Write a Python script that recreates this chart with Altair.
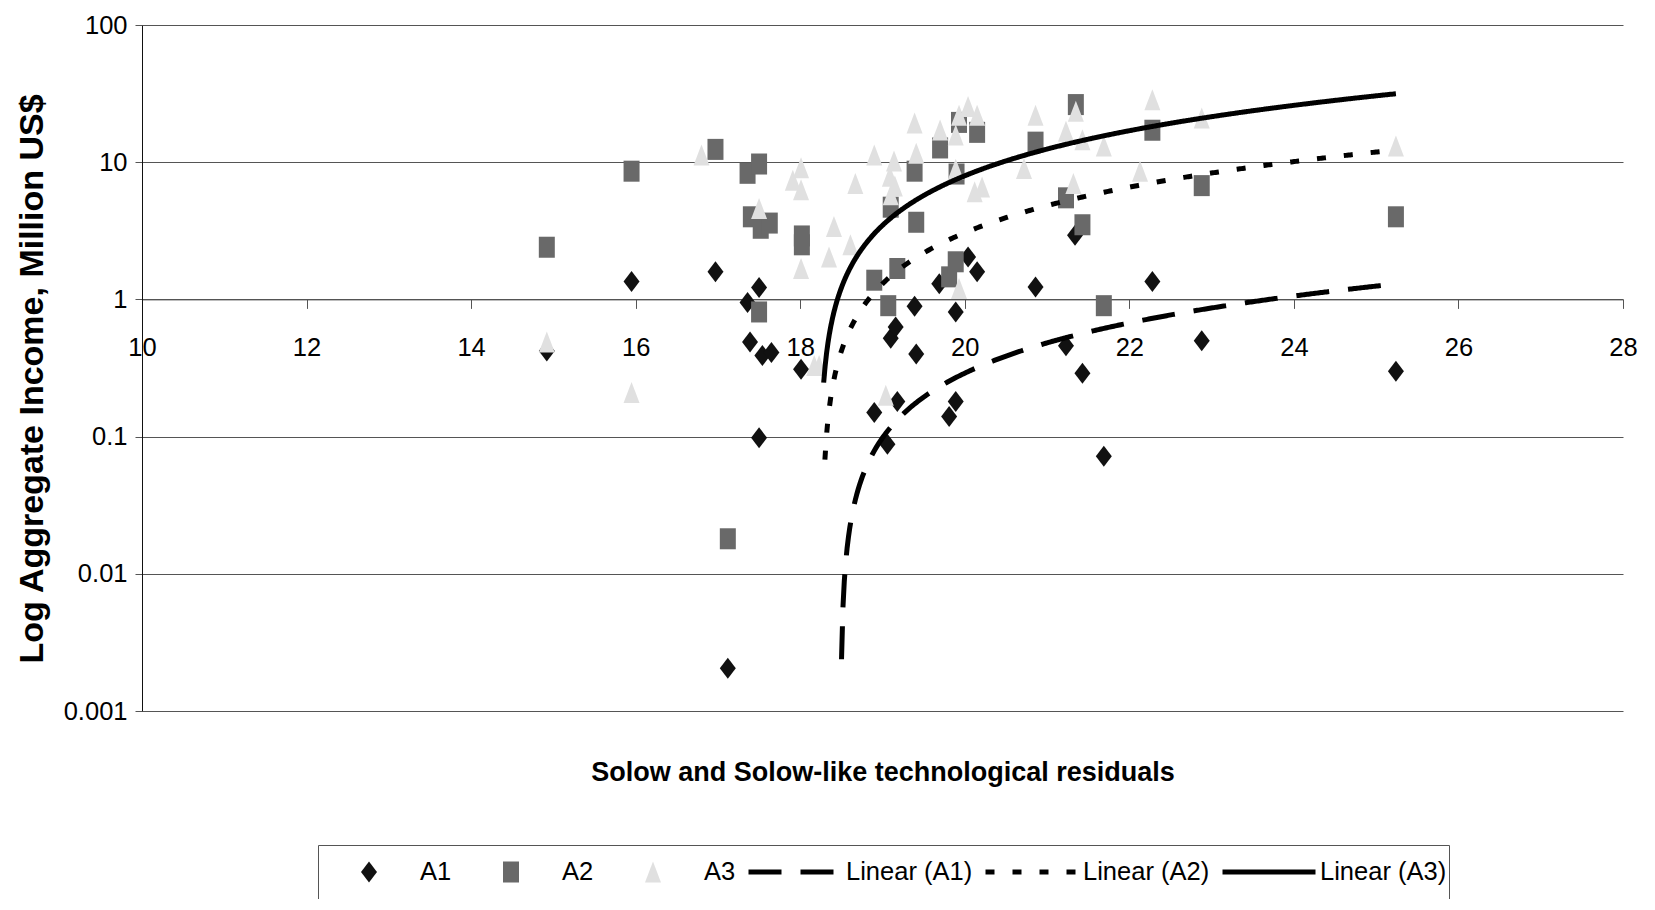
import altair as alt
import numpy as np
import pandas as pd

# ---------------- data ----------------
a1_x = [14.92, 15.95, 16.97, 17.12, 17.36, 17.39, 17.50, 17.50, 17.54, 17.65,
        18.01, 18.90, 19.06, 19.10, 19.16, 19.18, 19.39, 19.41, 19.69, 19.81,
        19.89, 19.89, 20.04, 20.15, 20.86, 21.23, 21.34, 21.43, 21.69, 22.28,
        22.88, 25.24]
a1_y = [0.42, 1.35, 1.59, 0.00205, 0.95, 0.49, 1.22, 0.098, 0.39, 0.41,
        0.31, 0.15, 0.088, 0.52, 0.63, 0.18, 0.89, 0.40, 1.30, 0.14,
        0.81, 0.18, 2.04, 1.59, 1.23, 0.46, 2.94, 0.29, 0.072, 1.35,
        0.50, 0.30]

a2_x = [14.92, 15.95, 16.97, 17.12, 17.36, 17.40, 17.50, 17.50, 17.52, 17.63,
        18.02, 18.02, 18.90, 19.07, 19.10, 19.18, 19.39, 19.41, 19.70, 19.81,
        19.89, 19.90, 19.93, 20.15, 20.86, 21.23, 21.35, 21.43, 21.69, 22.28,
        22.88, 25.24]
a2_y = [2.4, 8.6, 12.4, 0.018, 8.3, 4.0, 9.7, 0.81, 3.3, 3.6,
        2.9, 2.5, 1.38, 0.90, 4.7, 1.68, 8.6, 3.65, 12.7, 1.46,
        1.88, 8.2, 19.5, 16.5, 14.0, 5.5, 26.3, 3.5, 0.90, 17.1,
        6.75, 4.0]

a3_x = [14.92, 15.95, 16.80, 17.50, 17.91, 18.01, 18.01, 18.01, 18.17, 18.23,
        18.35, 18.41, 18.61, 18.67, 18.90, 19.04, 19.09, 19.10, 19.14, 19.15,
        19.39, 19.41, 19.70, 19.89, 19.89, 19.93, 19.93, 20.04, 20.12, 20.15,
        20.21, 20.72, 20.86, 21.23, 21.32, 21.35, 21.43, 21.69, 22.13, 22.28,
        22.88, 25.24]
a3_y = [0.49, 0.21, 11.3, 4.6, 7.4, 9.1, 6.3, 1.68, 0.33, 0.33,
        2.04, 3.4, 2.5, 7.0, 11.3, 0.20, 7.9, 5.8, 10.2, 6.7,
        19.3, 11.6, 17.2, 15.8, 8.9, 22.0, 1.2, 25.5, 6.1, 22.0,
        6.6, 9.0, 22.0, 16.8, 7.0, 23.5, 14.6, 13.1, 8.6, 28.5,
        21.0, 13.1]

series_names = ["A1", "A2", "A3", "Linear (A1)", "Linear (A2)", "Linear (A3)"]
trend_names = ["Linear (A1)", "Linear (A2)", "Linear (A3)"]
# linear trendlines y = slope * x + intercept
trend_slope = [0.192, 1.76, 4.5]
trend_intercept = [-3.550, -32.14, -82.035]
trend_start = [18.502, 18.30, 18.285]
trend_end = [25.24, 25.24, 25.24]

x_ticks = [10, 12, 14, 16, 18, 20, 22, 24, 26, 28]
y_ticks = [0.001, 0.01, 0.1, 1, 10, 100]

x_title = "Solow and Solow-like technological residuals"
y_title = "Log Aggregate Income, Million US$"

# ---------------- tables ----------------
rows = []
for name, xs, ys in [("A1", a1_x, a1_y), ("A2", a2_x, a2_y), ("A3", a3_x, a3_y)]:
    for xv, yv in zip(xs, ys):
        rows.append({"series": name, "x": xv, "y": yv})
points = pd.DataFrame(rows)

trows = []
for i, name in enumerate(trend_names):
    xs = np.linspace(trend_start[i], trend_end[i], 400)
    ys = trend_slope[i] * xs + trend_intercept[i]
    for xv, yv in zip(xs, ys):
        if yv > 0:
            trows.append({"series": name, "x": float(xv), "y": float(yv)})
trend = pd.DataFrame(trows)

# ---------------- styling ----------------
W, H = 1481, 686
FONT = "Liberation Sans"
DIAMOND = "M0,-0.226L0.172,0L0,0.226L-0.172,0Z"
SQUARE = "M-0.172,-0.226L0.172,-0.226L0.172,0.226L-0.172,0.226Z"
TRIANGLE = "M0,-0.226L0.172,0.226L-0.172,0.226Z"

x_scale = alt.Scale(domain=[10, 28], nice=False, zero=False)
y_scale = alt.Scale(type="log", domain=[0.001, 100], nice=False)
color_scale = alt.Scale(domain=series_names,
                        range=["#111111", "#696969", "#e0e0e0", "#000000", "#000000", "#000000"])
shape_scale = alt.Scale(domain=series_names,
                        range=[DIAMOND, SQUARE, TRIANGLE, "stroke", "stroke", "stroke"])
dash_scale = alt.Scale(domain=series_names,
                       range=[[0, 1000], [0, 1000], [0, 1000], [33, 19], [9, 18], [1, 0]])

legend = alt.Legend(
    title=" ", titleOrient="bottom", orient="none", legendX=176, legendY=820,
    direction="horizontal", columns=6,
    symbolSize=8649, symbolStrokeWidth=5, clipHeight=50,
    labelFont=FONT, labelFontSize=25.5, labelColor="black", labelOffset=2,
    columnPadding=10, padding=2, strokeColor="#555555", fillColor="white",
    titleFontSize=14, titlePadding=0, symbolOpacity=1,
)

x_axis = alt.Axis(
    orient="bottom", offset=-(H * 3 / 5), values=x_ticks, format="d",
    grid=False, labelFont=FONT, labelFontSize=25.5, labelColor="black",
    labelFlush=False, labelPadding=27, tickSize=9, tickColor="#555555",
    domainColor="#555555", title=x_title, titleFont=FONT, titleFontSize=27,
    titleFontWeight="bold", titleColor="black", titleX=W / 2, titleY=473,
    titleAlign="center", titleBaseline="middle",
)
y_axis = alt.Axis(
    orient="left", values=y_ticks, labelExpr="'' + datum.value",
    grid=True, gridColor="#555555", gridWidth=1,
    labelFont=FONT, labelFontSize=25.5, labelColor="black", labelPadding=8,
    tickSize=7, tickColor="#555555", domainColor="#111111",
    title=y_title, titleFont=FONT, titleFontSize=34, titleFontWeight="bold",
    titleColor="black", titleAngle=270, titleX=-110, titleY=353.5,
    titleAlign="center", titleBaseline="middle",
)

pts = alt.Chart(points).mark_point(filled=True, opacity=1, size=8649, strokeWidth=0).encode(
    x=alt.X("x:Q", scale=x_scale, axis=x_axis),
    y=alt.Y("y:Q", scale=y_scale, axis=y_axis),
    shape=alt.Shape("series:N", scale=shape_scale, legend=legend),
    color=alt.Color("series:N", scale=color_scale, legend=legend),
    order=alt.Order("series:N"),
)

lines = alt.Chart(trend).mark_line(strokeWidth=5, strokeCap="butt").encode(
    x=alt.X("x:Q", scale=x_scale),
    y=alt.Y("y:Q", scale=y_scale),
    color=alt.Color("series:N", scale=color_scale, legend=legend),
    strokeDash=alt.StrokeDash("series:N", scale=dash_scale, legend=legend),
)

chart = alt.layer(pts, lines).properties(
    width=W, height=H,
    autosize=alt.AutoSizeParams(type="none"),
    padding={"left": 134, "top": 17, "right": 24, "bottom": 188},
).configure_view(strokeWidth=0)

chart.save("out.html", embed_options={"renderer": "svg", "actions": False})
